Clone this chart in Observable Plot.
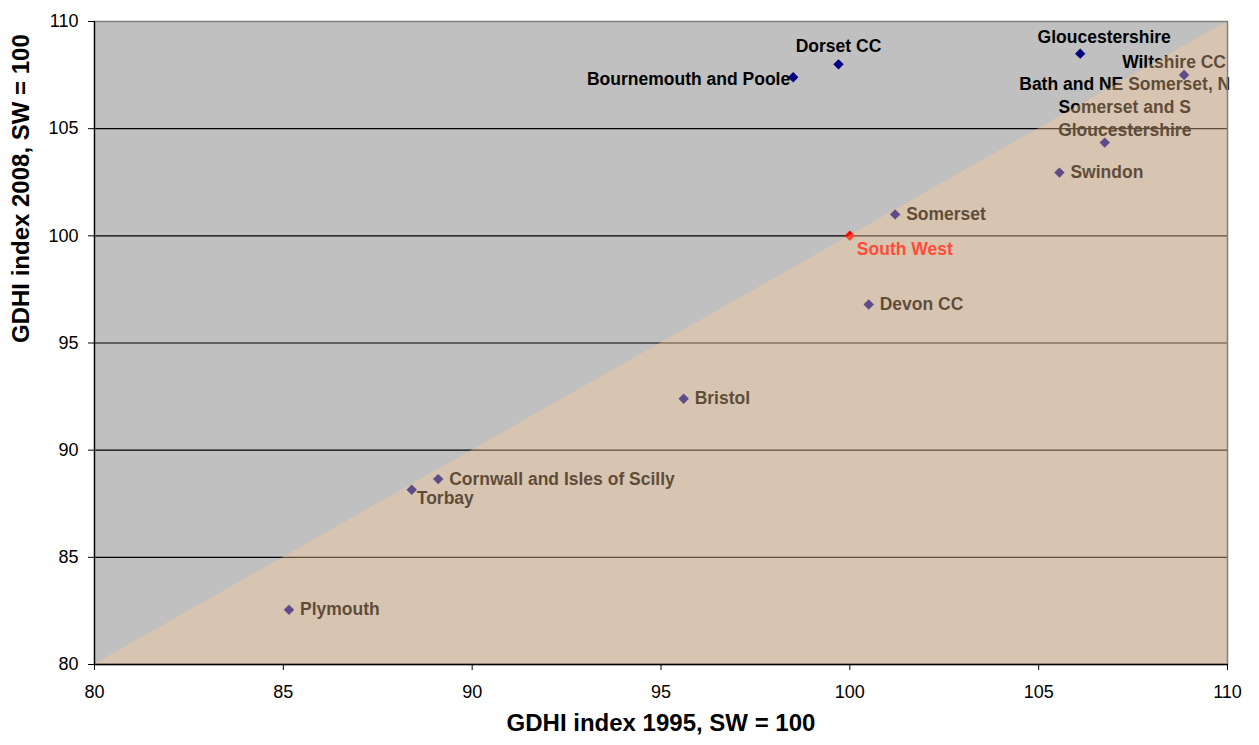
<!DOCTYPE html>
<html>
<head>
<meta charset="utf-8">
<script src="https://cdn.jsdelivr.net/npm/d3@7"></script>
<script src="https://cdn.jsdelivr.net/npm/@observablehq/plot@0.6"></script>
<style>
  html, body { margin: 0; padding: 0; background: #fff; }
  #chart svg { display: block; }
</style>
</head>
<body>
<div id="chart"></div>
<script>
// ---- data ----
const areas = [
  "Bournemouth and Poole", "Dorset CC", "Gloucestershire", "Wiltshire CC",
  "Bath and NE Somerset, N Somerset and S Gloucestershire", "Swindon", "Somerset",
  "South West", "Devon CC", "Bristol", "Cornwall and Isles of Scilly", "Torbay", "Plymouth"
];
const labelText = [
  "Bournemouth and Poole", "Dorset CC", "Gloucestershire", "Wiltshire CC",
  "Bath and NE Somerset, N\nSomerset and S\nGloucestershire", "Swindon", "Somerset",
  "South West", "Devon CC", "Bristol", "Cornwall and Isles of Scilly", "Torbay", "Plymouth"
];
const gdhi1995 = [98.5, 99.7, 106.1, 108.85, 106.75, 105.55, 101.2, 100, 100.5, 95.6, 89.1, 88.4, 85.15];
const gdhi2008 = [107.4, 108.0, 108.5, 107.5, 104.35, 102.95, 101.0, 100, 96.8, 92.4, 88.65, 88.15, 82.55];
const xTicks = [80, 85, 90, 95, 100, 105, 110];
const yTicks = [80, 85, 90, 95, 100, 105, 110];
const gridY = [85, 90, 95, 100, 105];
const diagonal = [80, 110];
const xTitle = "GDHI index 1995, SW = 100";
const yTitle = "GDHI index 2008, SW = 100";

const rows = areas.map((name, i) => ({name, label: labelText[i], x: gdhi1995[i], y: gdhi2008[i]}));

// ---- label placement groups ----
const rightGroup = ["Swindon", "Somerset", "Devon CC", "Bristol", "Cornwall and Isles of Scilly", "Plymouth"];
const font = "'Liberation Sans', Arial, Helvetica, sans-serif";
const labelBase = {x: "x", y: "y", text: "label", fontSize: 17.5, fontWeight: "bold", fill: "#000"};
const pick = (names) => rows.filter(d => names.includes(d.name));

const chart = Plot.plot({
  width: 1259,
  height: 745,
  marginLeft: 94,
  marginRight: 32,
  marginTop: 21,
  marginBottom: 81,
  style: {fontFamily: font, background: "#fff", color: "#000"},
  x: {domain: [80, 110]},
  y: {domain: [80, 110]},
  marks: [
    Plot.frame({fill: "#C0C0C0"}),
    Plot.ruleY(gridY, {stroke: "#000", strokeWidth: 1.2}),
    Plot.dot(rows, {x: "x", y: "y", symbol: "diamond2", r: 4.7,
      fill: d => d.name === "South West" ? "#FF0000" : "#000080", stroke: "none"}),
    Plot.text(pick(rightGroup), {...labelBase, textAnchor: "start", dx: 11}),
    Plot.text(pick(["South West"]), {...labelBase, fill: "#FF0000", textAnchor: "start", dx: 7, dy: 14}),
    Plot.text(pick(["Torbay"]), {...labelBase, textAnchor: "start", dx: 5, dy: 9}),
    Plot.text(pick(["Bournemouth and Poole"]), {...labelBase, textAnchor: "end", dx: -3, dy: 2}),
    Plot.text(pick(["Dorset CC"]), {...labelBase, textAnchor: "middle", dy: -18}),
    Plot.text(pick(["Gloucestershire"]), {...labelBase, textAnchor: "middle", dx: 24, dy: -16}),
    Plot.text(pick(["Wiltshire CC"]), {...labelBase, textAnchor: "middle", dx: -10, dy: -13}),
    Plot.text(pick(["Bath and NE Somerset, N Somerset and S Gloucestershire"]),
      {...labelBase, textAnchor: "middle", lineAnchor: "middle", lineHeight: 1.3, dx: 20, dy: -37}),
    // translucent tan overlay below the diagonal y = x
    Plot.areaY(diagonal, {x: d => d, y1: () => diagonal[0], y2: d => d, fill: "#FFCC99", fillOpacity: 0.37}),
    Plot.frame({stroke: "#808080", strokeWidth: 1.5}),
    Plot.ruleX([80], {stroke: "#000", strokeWidth: 1.3}),
    Plot.ruleY([80], {stroke: "#000", strokeWidth: 1.3}),
    Plot.axisX({ticks: xTicks, tickSize: 6, tickPadding: 15, fontSize: 18, label: null, stroke: "#000"}),
    Plot.axisY({ticks: yTicks, tickSize: 6, tickPadding: 10, fontSize: 18, label: null, stroke: "#000"}),
    Plot.text([xTitle], {frameAnchor: "bottom", text: d => d, dy: 66, fontSize: 24, fontWeight: "bold", fill: "#000"}),
    Plot.text([yTitle], {frameAnchor: "left", text: d => d, dx: -73, rotate: -90, fontSize: 24, fontWeight: "bold", fill: "#000"})
  ]
});
document.getElementById("chart").appendChild(chart);
</script>
</body>
</html>
